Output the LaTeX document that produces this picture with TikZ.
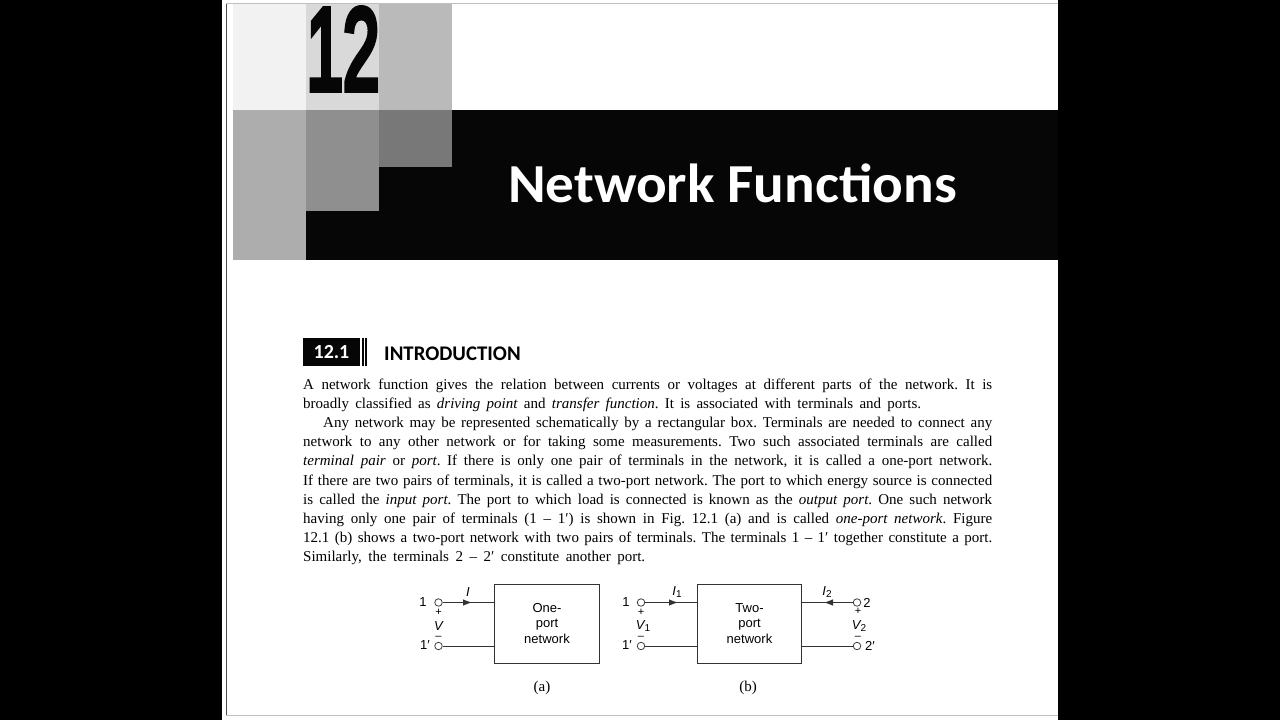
\documentclass[tikz,border=0pt]{standalone}
\usepackage{fontspec}
\setmainfont{Liberation Serif}
\newfontfamily\headfont{Carlito}
\newfontfamily\diagfont{Liberation Sans}
\newfontfamily\chapfont[FakeBold=6]{Liberation Sans}
\usetikzlibrary{arrows.meta}
\definecolor{bandblack}{HTML}{060606}
\frenchspacing
\tikzset{
    bodyline/.style={anchor=base west, inner sep=0pt, font=\frenchspacing\fontsize{15}{16}\selectfont},
    netbox/.style={draw=black!80, line width=1pt, minimum width=104.5pt, minimum height=79pt, inner sep=0pt,
        align=center, font=\diagfont\fontsize{13}{15.4}\selectfont},
    terminal/.style={circle, draw=black!75, fill=white, line width=0.8pt, minimum size=7.5pt, inner sep=0pt},
    difflabel/.style={inner sep=0pt, font=\diagfont\fontsize{13}{14}\selectfont},
    signlabel/.style={inner sep=0pt, font=\diagfont\fontsize{11}{12}\selectfont},
    wire/.style={draw=black!80, line width=1pt},
    arrowwire/.style={wire, -{Latex[length=9pt,width=6.5pt]}},
    caption/.style={inner sep=0pt, font=\fontsize{15}{16}\selectfont}
}
\newcommand{\fullline}[1]{\makebox[689pt][s]{#1}}
\newcommand{\sub}[1]{\raisebox{-2.5pt}{\fontsize{10}{10}\selectfont\upshape #1}}
\begin{document}
\begin{tikzpicture}[x=1pt,y=-1pt]
    \useasboundingbox (0,0) rectangle (1280,720);
    % page
    \fill[black] (0,0) rectangle (1280,720);
    \fill[white] (222,0) rectangle (1058,720);
    \draw[black!70, line width=1pt] (226,3) -- (226,716);
    \draw[black!25, line width=1pt] (226,3.5) -- (1058,3.5);
    \draw[black!25, line width=1pt] (226,715) -- (1058,715);
    % chapter squares
    \fill[bandblack] (306,110) rectangle (1058,260);
    \fill[black!5] (233,4) rectangle (306,110);
    \fill[black!15] (306,4) rectangle (379,110);
    \fill[black!27] (379,4) rectangle (452,110);
    \fill[black!32] (233,110) rectangle (306,260);
    \fill[black!44] (306,110) rectangle (379,211);
    \fill[black!53] (379,110) rectangle (452,167);
    \node[xscale=0.565, inner sep=0pt, font=\chapfont\fontsize{116}{116}\selectfont, text=bandblack] (chapnum) at (343,49) {12};
    \node[xscale=1.04, inner sep=0pt, text=white, font=\headfont\bfseries\fontsize{55}{60}\selectfont] (title) at (732.5,183) {Network Functions};
    % section heading
    \node[fill=bandblack, minimum width=57pt, minimum height=28pt, inner sep=0pt, text=white,
        font=\headfont\bfseries\fontsize{20}{22}\selectfont] (secnum) at (331.5,352) {12.1};
    \fill[bandblack] (362,338) rectangle (363.5,366);
    \fill[bandblack] (365,338) rectangle (367,366);
    \node[anchor=base west, inner sep=0pt, font=\headfont\bfseries\fontsize{20.8}{22}\selectfont] (sechead) at (384,360) {INTRODUCTION};
    % body text
    \node[bodyline] (l1) at (303,389) {\fullline{A network function gives the relation between currents or voltages at different parts of the network. It is}};
    \node[bodyline] (l2) at (303,408.3) {\makebox[618pt][s]{broadly classified as \textit{driving point} and \textit{transfer function}. It is associated with terminals and ports.}};
    \node[bodyline] (l3) at (323,427.5) {\makebox[669pt][s]{Any network may be represented schematically by a rectangular box. Terminals are needed to connect any}};
    \node[bodyline] (l4) at (303,446.7) {\fullline{network to any other network or for taking some measurements. Two such associated terminals are called}};
    \node[bodyline] (l5) at (303,465.9) {\fullline{\textit{terminal pair} or \textit{port}. If there is only one pair of terminals in the network, it is called a one-port network.}};
    \node[bodyline] (l6) at (303,485.1) {\fullline{If there are two pairs of terminals, it is called a two-port network. The port to which energy source is connected}};
    \node[bodyline] (l7) at (303,504.3) {\fullline{is called the \textit{input port}. The port to which load is connected is known as the \textit{output port}. One such network}};
    \node[bodyline] (l8) at (303,523.5) {\fullline{having only one pair of terminals (1 -- 1′) is shown in Fig. 12.1 (a) and is called \textit{one-port network}. Figure}};
    \node[bodyline] (l9) at (303,542.7) {\fullline{12.1 (b) shows a two-port network with two pairs of terminals. The terminals 1 -- 1′ together constitute a port.}};
    \node[bodyline] (l10) at (303,561.9) {\makebox[342pt][s]{Similarly, the terminals 2 -- 2′ constitute another port.}};
    % one-port network
    \node[netbox] (boxa) at (547,623.5) {One-\\port\\network};
    \node[terminal] (ta1) at (438.5,602.5) {};
    \node[terminal] (ta2) at (438.5,646) {};
    \coordinate (ia) at (472,602.5);
    \draw[wire] (ta1) -- (boxa.west |- ta1);
    \draw[arrowwire] (ta1) -- (ia);
    \draw[wire] (ta2) -- (boxa.west |- ta2);
    \node[difflabel] (na1) at (423,602.5) {1};
    \node[difflabel] (na2) at (425,645.5) {1′};
    \node[difflabel] (ila) at (468,592.5) {\itshape I};
    \node[signlabel] (pa) at (438.5,612) {+};
    \node[difflabel] (va) at (438.5,626) {\itshape V};
    \node[signlabel] (ma) at (438.5,638) {–};
    \node[caption] (capa) at (542,687.5) {(a)};
    % two-port network
    \node[netbox] (boxb) at (749.5,623.5) {Two-\\port\\network};
    \node[terminal] (tb1) at (641,602.5) {};
    \node[terminal] (tb2) at (641,646) {};
    \node[terminal] (tb3) at (857,602.5) {};
    \node[terminal] (tb4) at (857,646) {};
    \coordinate (ib1) at (678,602.5);
    \coordinate (ib2) at (824,602.5);
    \draw[wire] (tb1) -- (boxb.west |- tb1);
    \draw[arrowwire] (tb1) -- (ib1);
    \draw[wire] (tb2) -- (boxb.west |- tb2);
    \draw[wire] (tb3) -- (boxb.east |- tb3);
    \draw[arrowwire] (tb3) -- (ib2);
    \draw[wire] (tb4) -- (boxb.east |- tb4);
    \node[difflabel] (nb1) at (626,602.5) {1};
    \node[difflabel] (nb2) at (627,645.5) {1′};
    \node[difflabel] (nb3) at (867,602.5) {2};
    \node[difflabel] (nb4) at (870,645.5) {2′};
    \node[difflabel] (ilb1) at (677,592) {\itshape I\sub{1}};
    \node[difflabel] (ilb2) at (827,592) {\itshape I\sub{2}};
    \node[signlabel] (pb1) at (641,612) {+};
    \node[difflabel] (vb1) at (643,626) {\itshape V\sub{1}};
    \node[signlabel] (mb1) at (641,638) {–};
    \node[signlabel] (pb2) at (858,611) {+};
    \node[difflabel] (vb2) at (859,626) {\itshape V\sub{2}};
    \node[signlabel] (mb2) at (858,638) {–};
    \node[caption] (capb) at (748,687.5) {(b)};
\end{tikzpicture}
\end{document}
